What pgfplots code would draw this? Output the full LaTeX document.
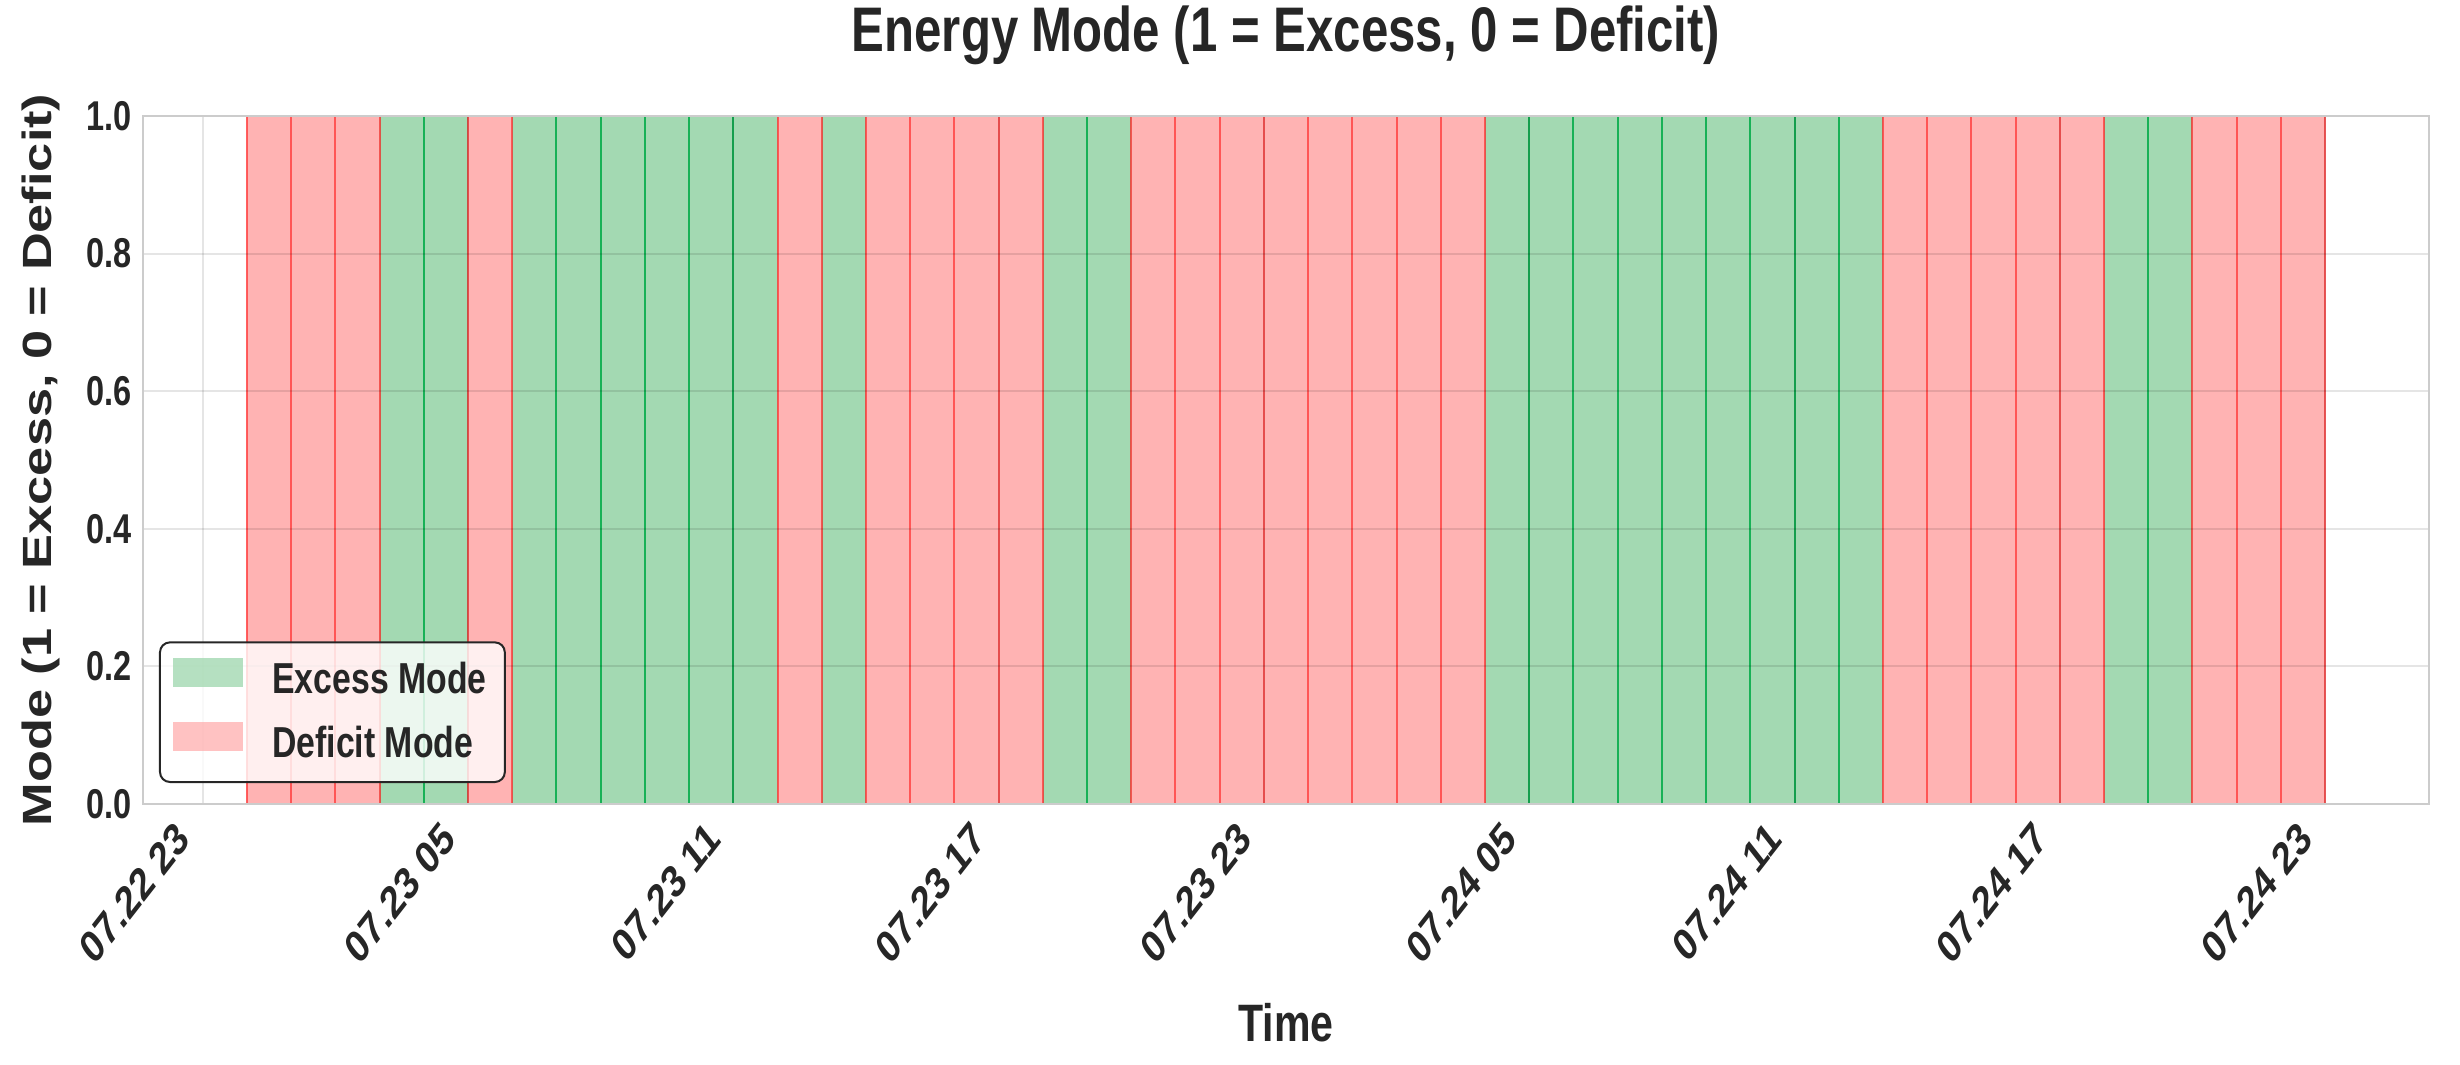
\documentclass[border=0pt]{standalone}
\usepackage{fontspec}
\setmainfont{Liberation Sans}[FakeStretch=0.78]
\newfontfamily\plainfont{Liberation Sans}
\usepackage{pgfplots}
\pgfplotsset{compat=1.18}
\definecolor{ExGreen}{RGB}{163,217,178}
\definecolor{ExEdge}{RGB}{0,170,70}
\definecolor{DefRed}{RGB}{255,179,179}
\definecolor{DefEdge}{RGB}{255,70,70}
\definecolor{TextGray}{RGB}{38,38,38}
\definecolor{FrameGray}{RGB}{204,204,204}

\begin{document}
\begin{tikzpicture}
\begin{axis}[
    at={(0,0)}, anchor=south west,
    scale only axis, width=685.8pt, height=206.4pt,
    xmin=-2.35, xmax=49.35, ymin=0, ymax=1,
    xtick={-1,5,11,17,23,29,35,41,47},
    xticklabels={07.22 23,07.23 05,07.23 11,07.23 17,07.23 23,07.24 05,07.24 11,07.24 17,07.24 23},
    ytick={0,0.2,0.4,0.6,0.8,1},
    major tick length=0pt,
    grid=major,
    grid style={black, opacity=0.1, line width=0.6pt},
    axis on top,
    axis line style={FrameGray, line width=0.8pt},
    tick label style={text=TextGray},
    yticklabel style={font=\fontsize{12.5}{14}\selectfont\bfseries,
        /pgf/number format/.cd, fixed, fixed zerofill, precision=1, assume math mode=true},
    xticklabel style={font=\plainfont\fontsize{13.6}{15}\selectfont\bfseries,
        xshift=-8.5pt, yshift=-4.2pt, xscale=0.78, rotate=45, anchor=north east, inner sep=0pt},
    title={Energy Mode (1 = Excess, 0 = Deficit)},
    title style={at={(axis description cs:0.5,1)}, anchor=base, yshift=13.5pt,
        font=\fontsize{18.9}{22}\selectfont\bfseries, text=TextGray},
    xlabel={Time},
    every axis x label/.style={at={(axis description cs:0.5,0)}, anchor=base, yshift=-71.1pt,
        font=\fontsize{15.8}{18}\selectfont\bfseries, text=TextGray},
    ylabel={Mode (1 = Excess, 0 = Deficit)},
    every axis y label/.style={at={(axis description cs:0,0.5)}, xshift=-27.3pt, rotate=90, yscale=0.78,
        anchor=base, font=\plainfont\fontsize{15.7}{18}\selectfont\bfseries, text=TextGray},
    legend style={at={(axis description cs:0,0)}, anchor=south west, xshift=4.8pt, yshift=6.3pt,
        draw=TextGray, line width=0.6pt, rounded corners=3pt,
        fill=white, fill opacity=0.8, draw opacity=1, text opacity=1,
        inner xsep=4pt, inner ysep=4.6pt, row sep=5.6pt,
        font=\fontsize{13}{15}\selectfont\bfseries, text=TextGray,
        nodes={inner xsep=1.5pt, inner ysep=0pt, text height=9.4pt, text depth=2.7pt}},
    legend cell align=left,
    /tikz/every odd column/.append style={column sep=7.2pt},
]
% excess hours (bar centres, hours after 07.23 00)
\addplot[ybar, bar width=1, bar shift=0pt, fill=ExGreen, draw=ExEdge, draw opacity=0.85, line width=0.6pt,
    legend image code/.code={\fill[ExGreen, draw=none, sharp corners] (0pt,-1.2pt) rectangle (21pt,7.5pt);}]
coordinates {
    (3.5,1) (4.5,1) (6.5,1) (7.5,1) (8.5,1) (9.5,1) (10.5,1) (11.5,1) (13.5,1)
    (18.5,1) (19.5,1) (28.5,1) (29.5,1) (30.5,1) (31.5,1) (32.5,1) (33.5,1)
    (34.5,1) (35.5,1) (36.5,1) (42.5,1) (43.5,1)
};
\addlegendentry{Excess Mode}
% deficit hours
\addplot[ybar, bar width=1, bar shift=0pt, fill=DefRed, draw=DefEdge, draw opacity=0.85, line width=0.6pt,
    legend image code/.code={\fill[DefRed, draw=none, sharp corners] (0pt,-1.2pt) rectangle (21pt,7.5pt);}]
coordinates {
    (0.5,1) (1.5,1) (2.5,1) (5.5,1) (12.5,1) (14.5,1) (15.5,1) (16.5,1) (17.5,1)
    (20.5,1) (21.5,1) (22.5,1) (23.5,1) (24.5,1) (25.5,1) (26.5,1) (27.5,1)
    (37.5,1) (38.5,1) (39.5,1) (40.5,1) (41.5,1) (44.5,1) (45.5,1) (46.5,1)
};
\addlegendentry{Deficit Mode}
\end{axis}
\pgfresetboundingbox
\path[use as bounding box] (-42.9pt,-78pt) rectangle (695.1pt,241.2pt);
\end{tikzpicture}
\end{document}
